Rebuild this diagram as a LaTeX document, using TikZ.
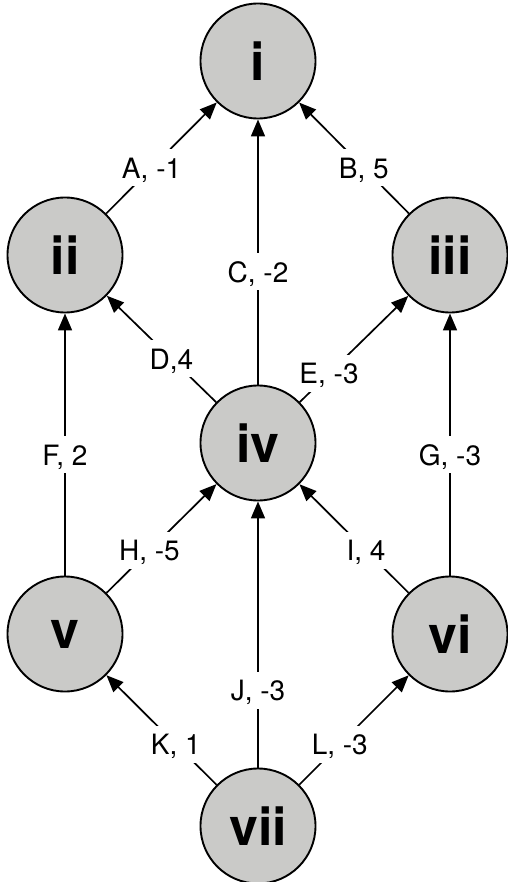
\documentclass[tikz,border=0pt]{standalone}
\usepackage{fontspec}
\setmainfont{TeX Gyre Heros}
\usetikzlibrary{arrows.meta}
\definecolor{nodegray}{RGB}{202,202,200}
\tikzset{
  vert/.style={circle, draw=black, line width=1.9pt, fill=nodegray, minimum size=115pt, inner sep=0pt,
    font=\fontsize{52}{52}\selectfont\bfseries},
  arr/.style={line width=1.7pt, -{Triangle[length=17pt,width=14pt]}},
  lab/.style={fill=white, inner sep=3pt, text height=26pt, text depth=5pt, font=\fontsize{28}{28}\selectfont}
}
\begin{document}
\begin{tikzpicture}[x=1pt,y=-1pt]
\useasboundingbox (0,0) rectangle (507,882);
\node[vert] (i)   at (258,61)  {i};
\node[vert] (ii)  at (65,255)  {ii};
\node[vert] (iii) at (450,255) {iii};
\node[vert] (iv)  at (258,443) {iv};
\node[vert] (v)   at (65,634)  {v};
\node[vert] (vi)  at (450,634) {vi};
\node[vert] (vii) at (258,826) {vii};
\draw[arr] (ii) -- node[lab,pos=0.41]{A, -1} (i);
\draw[arr] (iii) -- node[lab,pos=0.41]{B, 5} (i);
\draw[arr] (iv) -- node[lab,pos=0.425]{C, -2} (i);
\draw[arr] (iv) -- node[lab,pos=0.41]{D,4} (ii);
\draw[arr] (iv) -- node[lab,pos=0.27]{E, -3} (iii);
\draw[arr] (v) -- node[lab,pos=0.46]{F, 2} (ii);
\draw[arr] (vi) -- node[lab,pos=0.46]{G, -3} (iii);
\draw[arr] (v) -- node[lab,pos=0.39]{H, -5} (iv);
\draw[arr] (vi) -- node[lab,pos=0.39]{I, 4} (iv);
\draw[arr] (vii) -- node[lab,pos=0.29]{J, -3} (iv);
\draw[arr] (vii) -- node[lab,pos=0.37]{K, 1} (v);
\draw[arr] (vii) -- node[lab,pos=0.37]{L, -3} (vi);
\end{tikzpicture}
\end{document}
